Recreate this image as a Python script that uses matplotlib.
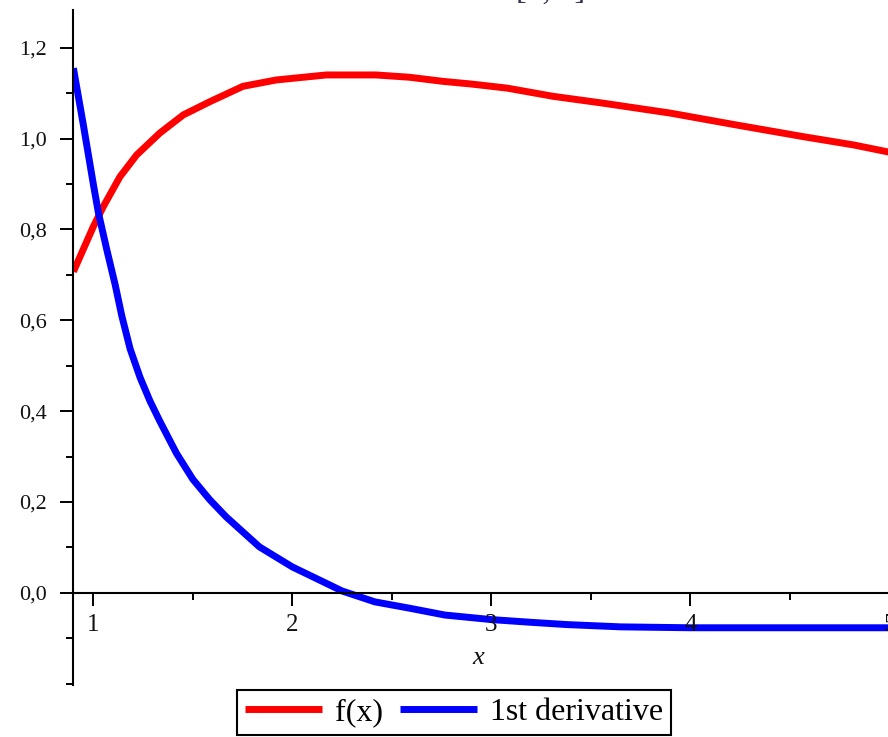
import matplotlib
matplotlib.use("Agg")
import matplotlib.pyplot as plt
from matplotlib.ticker import MultipleLocator, FuncFormatter

# ---- data ----
fx_x = [0.9, 1.0, 1.05, 1.134, 1.218, 1.334, 1.452, 1.585, 1.752, 1.92, 2.171,
        2.42, 2.588, 2.755, 2.9, 3.08, 3.31, 3.56, 3.9, 4.23, 4.57, 4.82, 5.0]
fx_y = [0.707, 0.806, 0.850, 0.916, 0.964, 1.012, 1.052, 1.081, 1.115, 1.129, 1.140,
        1.140, 1.135, 1.126, 1.120, 1.111, 1.093, 1.078, 1.056, 1.030, 1.004, 0.986, 0.970]

d1_x = [0.9, 0.95, 1.0, 1.025, 1.068, 1.11, 1.143, 1.185, 1.235, 1.285, 1.334, 1.418,
        1.5, 1.585, 1.668, 1.835, 2.0, 2.17, 2.25, 2.415, 2.59, 2.767, 3.0, 3.2,
        3.38, 3.65, 4.0, 4.5, 5.0]
d1_y = [1.155, 1.030, 0.900, 0.838, 0.755, 0.678, 0.610, 0.537, 0.474, 0.422, 0.378, 0.307,
        0.250, 0.205, 0.167, 0.101, 0.057, 0.021, 0.004, -0.020, -0.034, -0.049, -0.059, -0.065,
        -0.070, -0.075, -0.077, -0.077, -0.077]

series_labels = ["f(x)", "1st derivative"]
x_ticks = [1, 2, 3, 4, 5]
y_ticks = [0.0, 0.2, 0.4, 0.6, 0.8, 1.0, 1.2]
x_label = "x"
title_text = "[1, 5]"

serif = ["Liberation Serif", "DejaVu Serif"]

W, H = 888, 737
fig = plt.figure(figsize=(W / 100, H / 100), dpi=100)
ax = fig.add_axes([73.4 / W, 52 / H, (889.3 - 73.4) / W, (727 - 52) / H])

ax.plot(fx_x, fx_y, color="#ff0000", lw=5, label=series_labels[0], solid_capstyle="butt")
ax.plot(d1_x, d1_y, color="#0000ff", lw=5, label=series_labels[1], solid_capstyle="butt")

ax.set_xlim(0.9, 5.0)
ax.set_ylim(-0.203, 1.283)

ax.spines["top"].set_visible(False)
ax.spines["right"].set_visible(False)
ax.spines["bottom"].set_position(("data", 0))
for s in ("left", "bottom"):
    ax.spines[s].set_linewidth(1.5)
    ax.spines[s].set_color("black")

ax.set_xticks(x_ticks)
ax.set_yticks(y_ticks)
ax.xaxis.set_minor_locator(MultipleLocator(0.5))
ax.yaxis.set_minor_locator(MultipleLocator(0.1))
ax.yaxis.set_major_formatter(FuncFormatter(lambda v, p: f"{v:.1f}".replace(".", ",")))
ax.xaxis.set_major_formatter(FuncFormatter(lambda v, p: f"{v:g}"))

ax.tick_params(axis="both", which="major", direction="out", length=9.4, width=1.4,
               colors="black")
ax.tick_params(axis="both", which="minor", direction="out", length=5, width=1.4)
ax.tick_params(axis="y", which="major", pad=9.5, labelsize=16)
ax.tick_params(axis="x", which="major", pad=6, labelsize=18)
for lab in ax.get_xticklabels() + ax.get_yticklabels():
    lab.set_family(serif)
    lab.set_color("#111111")
ax.set_axisbelow(False)

fig.text(478 / W, 1 - 658 / H, x_label, family=serif, style="italic", fontsize=19,
         ha="center", va="center", color="#111111")

fig.text(551 / W, 1 + 1.5 / H, title_text, family=serif, fontsize=23,
         ha="center", va="baseline", color="#333355")

leg = fig.legend(loc="upper center", bbox_to_anchor=(454 / W, 1 - 690 / H), ncol=2,
                 prop={"family": serif, "size": 23}, handlelength=2.4, handletextpad=0.4,
                 columnspacing=0.55, borderpad=0.25, borderaxespad=0, fancybox=False,
                 frameon=True, framealpha=1, edgecolor="black")
leg.get_frame().set_linewidth(1.5)
for h in leg.get_lines():
    h.set_linewidth(5)

fig.savefig("out.png", dpi=100)
